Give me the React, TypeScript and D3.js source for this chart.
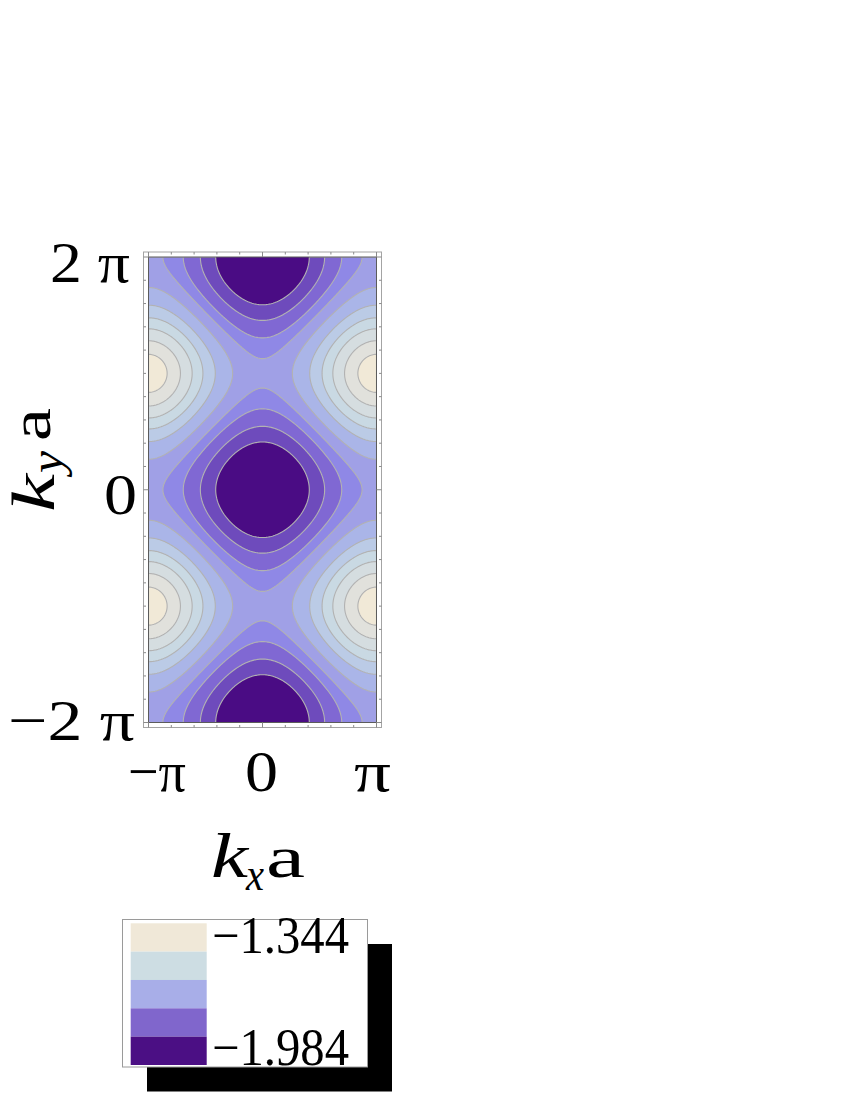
import React, { useEffect, useRef } from 'react'
import * as d3 from 'd3'

// axis ticks
const kxTicks = [-Math.PI, 0, Math.PI]
const kxTickLabels = ['−π', '0', 'π']
const kyTicks = [2 * Math.PI, 0, -2 * Math.PI]
const kyTickLabels = ['2 π', '0', '−2 π']

// band model: E = -sqrt(A + B (cos kx a + cos ky a))
const bandA = 2.845
const bandB = 0.578

// contour levels and band colours (lowest energy first)
const contourLevels = [-1.893, -1.828, -1.758, -1.7, -1.631, -1.556, -1.492, -1.435, -1.378, -1.328]
const bandColors = ['#4a0c84', '#6e4bbc', '#8068d3', '#8f88e6', '#a0a0e6', '#aab5e8', '#bbcbe6', '#c9d9e3', '#d5dde0', '#e1e1dc', '#f1e9d7']

// legend
const legendColors = ['#f0e8d8', '#cddde3', '#a8aee8', '#8066cc', '#4b0f84']
const legendLabels = ['−1.344', '−1.984']

const serif = "'Liberation Serif', 'Times New Roman', serif"

function App() {
  const ref = useRef<SVGSVGElement>(null)

  useEffect(() => {
    const svg = d3.select(ref.current)
    svg.selectAll('*').remove()

    const x0 = 148.5, x1 = 376.5, y0 = 257, y1 = 722.5
    const x = d3.scaleLinear().domain([-Math.PI, Math.PI]).range([x0, x1])
    const y = d3.scaleLinear().domain([-2 * Math.PI, 2 * Math.PI]).range([y1, y0])

    // sample the band on a pixel grid
    const nx = Math.round(x1 - x0)
    const ny = Math.round(y1 - y0)
    const values: number[] = new Array(nx * ny)
    for (let j = 0; j < ny; j++) {
      const ky = y.invert(y0 + (j + 0.5) * (y1 - y0) / ny)
      for (let i = 0; i < nx; i++) {
        const kx = x.invert(x0 + (i + 0.5) * (x1 - x0) / nx)
        values[j * nx + i] = -Math.sqrt(bandA + bandB * (Math.cos(kx) + Math.cos(ky)))
      }
    }

    const contours = d3.contours().size([nx, ny]).thresholds(contourLevels)(values)
    const proj = d3.geoTransform({
      point: function (px: number, py: number) {
        this.stream.point(x0 + px * (x1 - x0) / nx, y0 + py * (y1 - y0) / ny)
      }
    })
    const path = d3.geoPath(proj)

    svg.append('clipPath').attr('id', 'plotClip')
      .append('rect').attr('x', x0).attr('y', y0).attr('width', x1 - x0).attr('height', y1 - y0)

    const plot = svg.append('g').attr('clip-path', 'url(#plotClip)')
    plot.append('rect')
      .attr('x', x0).attr('y', y0).attr('width', x1 - x0).attr('height', y1 - y0)
      .attr('fill', bandColors[0])
    plot.selectAll('path.band')
      .data(contours)
      .enter()
      .append('path')
      .attr('class', 'band')
      .attr('d', (d: any) => path(d))
      .attr('fill', (d, i) => bandColors[i + 1])
      .attr('stroke', '#b2b2b2')
      .attr('stroke-width', 1.1)

    // inner border of the plot region
    svg.append('rect')
      .attr('x', x0).attr('y', y0).attr('width', x1 - x0).attr('height', y1 - y0)
      .attr('fill', 'none').attr('stroke', '#5c5c5c').attr('stroke-width', 1)

    // frame
    const fx0 = 143.5, fx1 = 381.5, fy0 = 252, fy1 = 727.5
    svg.append('rect')
      .attr('x', fx0).attr('y', fy0).attr('width', fx1 - fx0).attr('height', fy1 - fy0)
      .attr('fill', 'none').attr('stroke', '#a4a4a4').attr('stroke-width', 1)

    const ticks = svg.append('g').attr('stroke', '#8a8a8a').attr('stroke-width', 1)
    const minorX = d3.range(-5, 6).map(k => k * Math.PI / 5)
    const minorY = d3.range(-10, 11).map(k => k * Math.PI / 5)
    minorX.forEach(v => {
      const major = kxTicks.some(t => Math.abs(t - v) < 1e-6)
      const len = major ? 5 : 2.5
      ticks.append('line').attr('x1', x(v)).attr('x2', x(v)).attr('y1', fy1).attr('y2', fy1 - len)
      ticks.append('line').attr('x1', x(v)).attr('x2', x(v)).attr('y1', fy0).attr('y2', fy0 + len)
    })
    minorY.forEach(v => {
      const major = kyTicks.some(t => Math.abs(t - v) < 1e-6)
      const len = major ? 5 : 2.5
      ticks.append('line').attr('y1', y(v)).attr('y2', y(v)).attr('x1', fx0).attr('x2', fx0 + len)
      ticks.append('line').attr('y1', y(v)).attr('y2', y(v)).attr('x1', fx1).attr('x2', fx1 - len)
    })

    const fitText = (g: any, str: string, px: number, py: number, size: number, width: number, italic = false) =>
      g.append('text')
        .attr('x', px).attr('y', py)
        .attr('font-family', serif).attr('font-size', size)
        .attr('font-style', italic ? 'italic' : 'normal')
        .attr('textLength', width).attr('lengthAdjust', 'spacingAndGlyphs')
        .text(str)

    // tick labels
    const kyLabelPos = [[50, 282, 80], [104, 514, 33], [8, 740, 127]]
    kyTickLabels.forEach((s, i) => fitText(svg, s, kyLabelPos[i][0], kyLabelPos[i][1], 58, kyLabelPos[i][2]))
    const kxLabelPos = [[128, 791, 58], [245, 791, 33], [354, 791, 37]]
    kxTickLabels.forEach((s, i) => fitText(svg, s, kxLabelPos[i][0], kxLabelPos[i][1], 58, kxLabelPos[i][2]))

    // axis titles
    const xt = svg.append('g')
    fitText(xt, 'k', 211, 877, 64, 37, true)
    fitText(xt, 'x', 246, 890, 46, 18, true)
    fitText(xt, 'a', 266, 877, 60, 39)

    const yt = svg.append('g').attr('transform', 'translate(54,512) rotate(-90)')
    fitText(yt, 'k', 0, 0, 62, 38, true)
    fitText(yt, 'y', 39, 8, 46, 22, true)
    fitText(yt, 'a', 71, -4, 56, 33)

    // legend
    const lx = 122.5, ly = 919.5, lw = 245, lh = 147.5
    svg.append('rect').attr('x', lx + 24.5).attr('y', ly + 24.5).attr('width', lw).attr('height', lh).attr('fill', '#000')
    svg.append('rect').attr('x', lx).attr('y', ly).attr('width', lw).attr('height', lh)
      .attr('fill', '#fff').attr('stroke', '#9a9a9a').attr('stroke-width', 1)
    const sw = d3.scaleBand().domain(d3.range(legendColors.length).map(String)).range([923.3, 1065])
    svg.selectAll('rect.swatch')
      .data(legendColors)
      .enter()
      .append('rect')
      .attr('class', 'swatch')
      .attr('x', 130.7).attr('width', 76)
      .attr('y', (d, i) => sw(String(i)) as number)
      .attr('height', sw.bandwidth())
      .attr('fill', d => d)
    fitText(svg, legendLabels[0], 212, 953, 52, 137)
    fitText(svg, legendLabels[1], 212, 1065, 52, 137)
  }, [])

  return (
    <svg ref={ref} width={850} height={1100} style={{ position: 'absolute', left: 0, top: 0, display: 'block' }}></svg>
  )
}

export default App
